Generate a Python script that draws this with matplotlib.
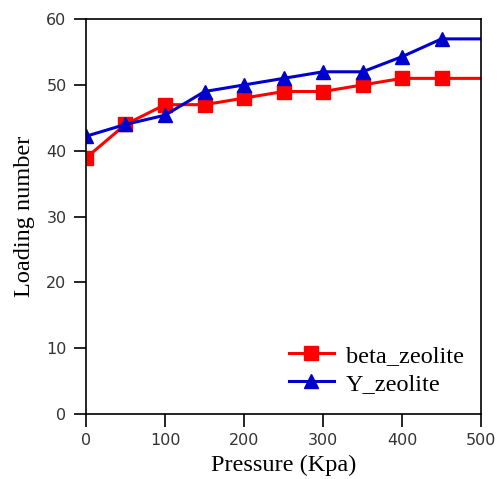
import matplotlib.pyplot as plt

pressure = [0, 50, 100, 150, 200, 250, 300, 350, 400, 450, 500]
beta_zeolite = [38.9, 44.0, 47.0, 47.0, 48.0, 49.0, 49.0, 50.0, 51.0, 51.0, 51.0]
y_zeolite = [42.2, 44.0, 45.4, 49.0, 50.0, 51.0, 52.0, 52.0, 54.3, 57.0, 57.0]
x_ticks = [0, 100, 200, 300, 400, 500]
y_ticks = [0, 10, 20, 30, 40, 50, 60]

fig = plt.figure(figsize=(4.97, 4.79), dpi=100)
ax = fig.add_axes([0.173, 0.136, 0.795, 0.824])

ax.plot(pressure, beta_zeolite, color='#ff0000', lw=2.2, marker='s', ms=10,
        markevery=slice(0, -1), label='beta_zeolite')
ax.plot(pressure, y_zeolite, color='#0000cc', lw=2.2, marker='^', ms=10,
        markevery=slice(0, -1), label='Y_zeolite')

ax.set_xlim(0, 500)
ax.set_ylim(0, 60)
ax.set_xticks(x_ticks)
ax.set_yticks(y_ticks)
ax.tick_params(direction='out', length=9, width=1.2, labelsize=11.5,
               labelcolor='#333333', top=False, right=False, pad=5)
for s in ax.spines.values():
    s.set_linewidth(1.2)

serif = {'family': 'Liberation Serif', 'size': 17.5}
ax.set_xlabel('Pressure (Kpa)', fontdict=serif, labelpad=5)
ax.set_ylabel('Loading number', fontdict=serif, labelpad=8)

ax.legend(loc='lower right', frameon=False, prop={'family': 'Liberation Serif', 'size': 17.5},
          handlelength=1.85, handletextpad=0.5, borderaxespad=0.3, labelspacing=0.25,
          bbox_to_anchor=(1.0, 0.005))

fig.savefig('out.png', dpi=100)
